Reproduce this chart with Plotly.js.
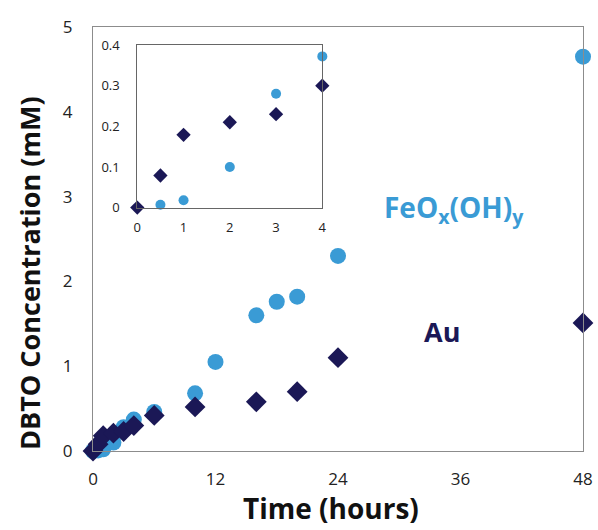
<!DOCTYPE html>
<html><head><meta charset="utf-8">
<script src="https://cdn.plot.ly/plotly-3.0.1.min.js"></script>
<style>body{margin:0;background:#fff}#chart{width:598px;height:530px}</style>
</head><body><div id="chart"></div>
<script>
// Main chart data (hours, mM)
const feoxTime = [0, 0.5, 1, 2, 3, 4, 6, 10, 12, 16, 18, 20, 24, 48];
const feoxConc = [0, 0.007, 0.02, 0.1, 0.28, 0.37, 0.46, 0.68, 1.05, 1.6, 1.76, 1.82, 2.3, 4.65];
const auTime = [0, 0.5, 1, 2, 3, 4, 6, 10, 16, 20, 24, 48];
const auConc = [0, 0.08, 0.18, 0.21, 0.23, 0.30, 0.42, 0.52, 0.58, 0.70, 1.1, 1.51];
// Inset data (first 4 hours)
const insetFeoxTime = [0.5, 1, 2, 3, 4];
const insetFeoxConc = [0.007, 0.018, 0.1, 0.28, 0.372];
const insetAuTime = [0, 0.5, 1, 2, 3, 4];
const insetAuConc = [0, 0.079, 0.179, 0.21, 0.23, 0.30];
const mainXTicks = [0, 12, 24, 36, 48];
const mainYTicks = [0, 1, 2, 3, 4, 5];
const insetXTicks = [0, 1, 2, 3, 4];
const insetYTicks = [0, 0.1, 0.2, 0.3, 0.4];
const insetYLabels = ['0', '0.1', '0.2', '0.3', '0.4'];
const xTitle = 'Time (hours)';
const yTitle = 'DBTO Concentration (mM)';

const blue = '#3A9BD5', navy = '#1B1856';
const data = [
  {x: feoxTime, y: feoxConc, type: 'scatter', mode: 'markers', cliponaxis: false,
   marker: {symbol: 'circle', size: 16, color: blue}, xaxis: 'x', yaxis: 'y'},
  {x: auTime, y: auConc, type: 'scatter', mode: 'markers', cliponaxis: false,
   marker: {symbol: 'diamond', size: 16, color: navy}, xaxis: 'x', yaxis: 'y'},
  {x: insetFeoxTime, y: insetFeoxConc, type: 'scatter', mode: 'markers', cliponaxis: false,
   marker: {symbol: 'circle', size: 10, color: blue}, xaxis: 'x2', yaxis: 'y2'},
  {x: insetAuTime, y: insetAuConc, type: 'scatter', mode: 'markers', cliponaxis: false,
   marker: {symbol: 'diamond', size: 11, color: navy}, xaxis: 'x2', yaxis: 'y2'}
];
const font = '"Open Sans", Lato, sans-serif';
const layout = {
  width: 598, height: 530,
  margin: {l: 93, r: 15, t: 27, b: 79},
  paper_bgcolor: '#fff', plot_bgcolor: 'rgba(0,0,0,0)',
  showlegend: false,
  font: {family: font, color: '#222'},
  xaxis: {range: [0, 48], tickvals: mainXTicks, showgrid: false, zeroline: false,
    showline: true, mirror: true, linecolor: '#8c8c8c', linewidth: 1.2, ticks: '', ticklen: 0,
    ticklabelstandoff: 12,
    tickfont: {size: 17, color: '#222'}},
  yaxis: {range: [0, 5], tickvals: mainYTicks, showgrid: false, zeroline: false,
    showline: true, mirror: true, linecolor: '#8c8c8c', linewidth: 1.2, ticks: '', ticklen: 0,
    ticklabelstandoff: 16,
    tickfont: {size: 17, color: '#222'}},
  xaxis2: {domain: [0.0904, 0.468], anchor: 'y2', range: [0, 4], tickvals: insetXTicks,
    showgrid: false, zeroline: false, showline: true, mirror: true, linecolor: '#666', linewidth: 1,
    ticks: '', ticklabelstandoff: 8, tickfont: {size: 13, color: '#222'}},
  yaxis2: {domain: [0.574, 0.9575], anchor: 'x2', range: [0, 0.4], tickvals: insetYTicks, ticktext: insetYLabels,
    showgrid: false, zeroline: false, showline: true, mirror: true, linecolor: '#666', linewidth: 1,
    ticks: '', ticklabelstandoff: 14, tickfont: {size: 13, color: '#222'}},
  annotations: [
    {text: xTitle, x: 0.486, y: -0.1355, xref: 'paper', yref: 'paper', xanchor: 'center', yanchor: 'middle',
     showarrow: false, font: {size: 28, color: '#111', family: font, weight: 'bold'}},
    {text: yTitle, x: -0.1286, y: 0.42, xref: 'paper', yref: 'paper', xanchor: 'center', yanchor: 'middle',
     textangle: -90, showarrow: false, font: {size: 27, color: '#111', family: font, weight: 'bold'}},
    {text: 'FeO<sub>x</sub>(OH)<sub>y</sub>', x: 0.59, y: 0.57, xref: 'paper', yref: 'paper',
     xanchor: 'left', yanchor: 'middle',
     showarrow: false, font: {size: 28, color: blue, family: font, weight: 'bold'}},
    {text: 'Au', x: 0.671, y: 0.283, xref: 'paper', yref: 'paper',
     xanchor: 'left', yanchor: 'middle',
     showarrow: false, font: {size: 27, color: navy, family: font, weight: 'bold'}}
  ]
};
Plotly.newPlot('chart', data, layout, {displayModeBar: false, staticPlot: true});
</script></body></html>
